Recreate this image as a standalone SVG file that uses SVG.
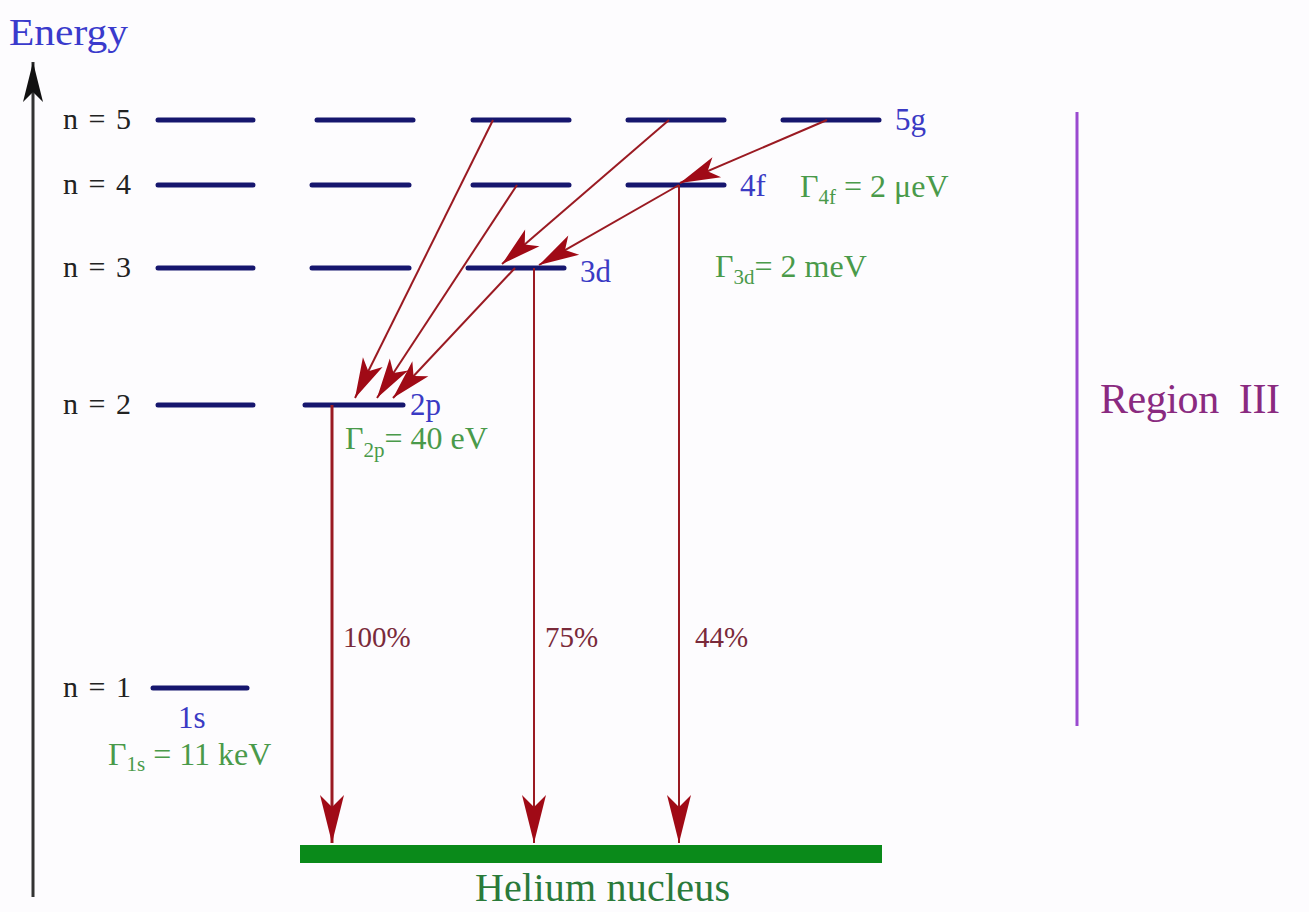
<svg xmlns="http://www.w3.org/2000/svg" width="1309" height="912" viewBox="0 0 1309 912">
<style>
text{font-family:"Liberation Serif","DejaVu Serif",serif}
.lvl{stroke:#16166e;stroke-width:5;stroke-linecap:round}
.nl{font-size:30px;fill:#222}
.orb{font-size:31px;fill:#3a3ac4}
.gam{font-size:32px;fill:#4a9a4a}
.sub{font-size:21px}
.pct{font-size:29px;fill:#7a2a3a}
.tr{stroke:#9a1a22;stroke-width:2;fill:none}
.trv{stroke:#9a1a22;stroke-width:3;fill:none}
</style>
<defs>
<marker id="ahBig" markerUnits="userSpaceOnUse" orient="auto" refX="0" refY="0" viewBox="-50 -14 52 28" markerWidth="52" markerHeight="28">
<path d="M0,0 L-48,-12 L-36,0 L-48,12 Z" fill="#a00a16"/>
</marker>
<marker id="ahSm" markerUnits="userSpaceOnUse" orient="auto" refX="0" refY="0" viewBox="-42 -13 44 26" markerWidth="44" markerHeight="26">
<path d="M0,0 L-40,-11 L-30,0 L-40,11 Z" fill="#a00a16"/>
</marker>
<marker id="ahAxis" markerUnits="userSpaceOnUse" orient="auto" refX="0" refY="0" viewBox="-42 -12 44 24" markerWidth="44" markerHeight="24">
<path d="M0,0 L-40,-10 L-30,0 L-40,10 Z" fill="#111"/>
</marker>
</defs>
<rect width="1309" height="912" fill="#fdfcfe"/>

<g id="axis">
<line x1="33" y1="897" x2="33" y2="62" stroke="#333" stroke-width="3" marker-end="url(#ahAxis)"/>
<text x="9" y="45" font-size="38" fill="#3a3acc" textLength="119" lengthAdjust="spacingAndGlyphs">Energy</text>
</g>

<g id="level-n5">
<text class="nl" x="63" y="129" textLength="68">n = 5</text>
<line class="lvl" x1="158" y1="120" x2="253" y2="120"/>
<line class="lvl" x1="317" y1="120" x2="413" y2="120"/>
<line class="lvl" x1="473" y1="120" x2="569" y2="120"/>
<line class="lvl" x1="628" y1="120" x2="724" y2="120"/>
<line class="lvl" x1="783" y1="120" x2="879" y2="120"/>
<text class="orb" x="895" y="130">5g</text>
</g>
<g id="level-n4">
<text class="nl" x="63" y="194" textLength="68">n = 4</text>
<line class="lvl" x1="158" y1="185" x2="253" y2="185"/>
<line class="lvl" x1="312" y1="185" x2="409" y2="185"/>
<line class="lvl" x1="473" y1="185" x2="569" y2="185"/>
<line class="lvl" x1="628" y1="185" x2="724" y2="185"/>
<text class="orb" x="740" y="196">4f</text>
<text class="gam" x="800" y="197">Γ<tspan class="sub" dy="7">4f</tspan><tspan dy="-7"> = 2 μeV</tspan></text>
</g>
<g id="level-n3">
<text class="nl" x="63" y="277" textLength="68">n = 3</text>
<line class="lvl" x1="158" y1="268" x2="253" y2="268"/>
<line class="lvl" x1="312" y1="268" x2="409" y2="268"/>
<line class="lvl" x1="468" y1="268" x2="564" y2="268"/>
<text class="orb" x="580" y="282">3d</text>
<text class="gam" x="715" y="277">Γ<tspan class="sub" dy="7">3d</tspan><tspan dy="-7">= 2 meV</tspan></text>
</g>
<g id="level-n2">
<text class="nl" x="63" y="414" textLength="68">n = 2</text>
<line class="lvl" x1="158" y1="405" x2="253" y2="405"/>
<line class="lvl" x1="305" y1="405" x2="403" y2="405"/>
<text class="orb" x="410" y="415">2p</text>
<text class="gam" x="345" y="449">Γ<tspan class="sub" dy="8">2p</tspan><tspan dy="-8">= 40 eV</tspan></text>
</g>
<g id="level-n1">
<text class="nl" x="63" y="697" textLength="68">n = 1</text>
<line class="lvl" x1="153" y1="688" x2="247" y2="688"/>
<text class="orb" x="178" y="728" font-size="28">1s</text>
<text class="gam" x="108" y="765">Γ<tspan class="sub" dy="6">1s</tspan><tspan dy="-6"> = 11 keV</tspan></text>
</g>

<g id="nucleus">
<rect x="300" y="845" width="582" height="18" fill="#0a8a1a"/>
<text x="475" y="901" font-size="40" fill="#2a7a3a" textLength="255">Helium nucleus</text>
</g>

<g id="region">
<line x1="1077" y1="112" x2="1077" y2="726" stroke="#9a4ad0" stroke-width="3"/>
<text x="1100" y="413" font-size="42" fill="#8a2a80" textLength="180" xml:space="preserve">Region  III</text>
</g>

<g id="connectors">
<line class="tr" x1="827" y1="120" x2="680" y2="183" marker-end="url(#ahSm)"/>
<line class="tr" x1="669" y1="120" x2="502" y2="264" marker-end="url(#ahSm)"/>
<line class="tr" x1="679" y1="185" x2="539" y2="265" marker-end="url(#ahSm)"/>
<line class="tr" x1="493" y1="120" x2="355" y2="398" marker-end="url(#ahSm)"/>
<line class="tr" x1="517" y1="185" x2="377" y2="398" marker-end="url(#ahSm)"/>
<line class="tr" x1="515" y1="268" x2="393" y2="398" marker-end="url(#ahSm)"/>
<line class="trv" x1="332" y1="405" x2="332" y2="843" marker-end="url(#ahBig)"/>
<line class="tr" x1="534" y1="268" x2="534" y2="843" marker-end="url(#ahBig)"/>
<line class="tr" x1="679" y1="185" x2="679" y2="843" marker-end="url(#ahBig)"/>
<text class="pct" x="343" y="647">100%</text>
<text class="pct" x="545" y="647">75%</text>
<text class="pct" x="695" y="647">44%</text>
</g>
</svg>
